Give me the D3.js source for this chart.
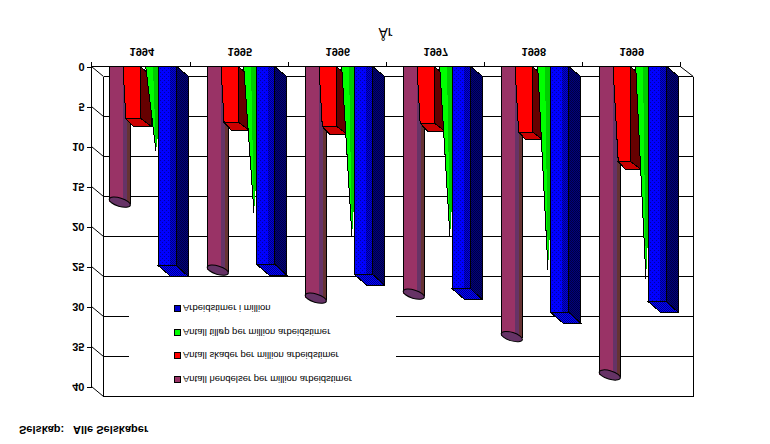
<!DOCTYPE html>
<html>
<head>
<meta charset="utf-8">
<title>År</title>
<script src="https://cdn.jsdelivr.net/npm/d3@7/dist/d3.min.js"></script>
<style>
    body { margin: 0; background: #fff; }
    svg { display: block; }
    text { font-family: "Liberation Sans", Arial, sans-serif; fill: #000; }
</style>
</head>
<body>
<script>
// values
const years = ['1994', '1995', '1996', '1997', '1998', '1999']
const hendelser = [16.4, 24.9, 28.4, 27.9, 33.2, 38.0]
const skader = [6.5, 7.0, 7.5, 7.1, 8.2, 11.9]
const tillop = [10.6, 18.3, 21.3, 21.3, 25.4, 26.6]
const timer = [24.9, 24.7, 26.0, 27.8, 30.7, 29.4]
const axisTicks = [0, 5, 10, 15, 20, 25, 30, 35, 40]
const legendLabels = [
    'Arbeidstimer i million',
    'Antall tilløp per million arbeidstimer',
    'Antall skader per million arbeidstimer',
    'Antall hendelser per million arbeidstimer'
]
const legendColours = ['#0000cc', '#00ff00', '#ff0000', '#993366']

const width = 770
const height = 444
const wall = {dx: 12, dy: 10}

const svg = d3.select('body').append('svg')
    .attr('width', width)
    .attr('height', height)

const x = d3.scaleBand().domain(years).range([92.3, 680.3])
const y = d3.scaleLinear().domain([0, 40]).range([66.5, 386.5])
const base = y(0)

// the whole picture is upside down, so every text is mirrored on its own baseline
function flippedText(parent, px, py, label, size, weight, anchor){
    return parent.append('text')
        .attr('transform', 'translate(' + px + ',' + py + ') scale(1,-1)')
        .attr('font-size', size)
        .attr('font-weight', weight)
        .attr('text-anchor', anchor)
        .text(label)
}

function poly(parent, points, fill, stroke = '#000'){
    return parent.append('polygon')
        .attr('points', points.map(p => p.join(',')).join(' '))
        .attr('fill', fill)
        .attr('stroke', stroke)
}

function dither(id, back, dot, size){
    const p = svg.append('defs').append('pattern')
        .attr('id', id)
        .attr('width', size)
        .attr('height', size)
        .attr('patternUnits', 'userSpaceOnUse')
    p.append('rect').attr('width', size).attr('height', size).attr('fill', back)
    p.append('rect').attr('width', 1).attr('height', 1).attr('fill', dot)
    p.append('rect').attr('x', size / 2).attr('y', size / 2).attr('width', 1).attr('height', 1).attr('fill', dot)
}
dither('blueFront', '#0000ff', '#0000a0', 4)
dither('blueFrontDark', '#0000e0', '#000080', 2)
dither('blueSide', '#000080', '#000040', 2)
dither('blueBottom', '#0000ff', '#000090', 2)

// walls and gridlines
const grid = svg.append('g').attr('shape-rendering', 'crispEdges')
const left = x.range()[0] - 0.8
const right = x.range()[1]

grid.selectAll('line.back')
    .data(axisTicks)
    .join('line')
    .attr('class', 'back')
    .attr('x1', left + wall.dx)
    .attr('x2', right + 13)
    .attr('y1', d => y(d) + wall.dy)
    .attr('y2', d => y(d) + wall.dy)
    .attr('stroke', '#000')

svg.append('g').selectAll('line')
    .data(axisTicks)
    .join('line')
    .attr('x1', left)
    .attr('x2', left + wall.dx)
    .attr('y1', d => y(d))
    .attr('y2', d => y(d) + wall.dy)
    .attr('stroke', '#000')

svg.append('line')
    .attr('x1', right).attr('x2', right + 13)
    .attr('y1', base).attr('y2', base + wall.dy)
    .attr('stroke', '#000')

grid.append('line')
    .attr('x1', left + wall.dx).attr('x2', left + wall.dx)
    .attr('y1', base + wall.dy).attr('y2', y(40) + wall.dy)
    .attr('stroke', '#000')
grid.append('line')
    .attr('x1', right + 13).attr('x2', right + 13)
    .attr('y1', base + wall.dy).attr('y2', y(40) + wall.dy)
    .attr('stroke', '#000')

// value axis
const yAxis = svg.append('g')
    .attr('transform', 'translate(' + left + ',0)')
    .call(d3.axisLeft(y).tickValues(axisTicks).tickSize(5).tickFormat(''))
yAxis.select('.domain').remove()
yAxis.attr('shape-rendering', 'crispEdges')
grid.append('line')
    .attr('x1', left).attr('x2', left)
    .attr('y1', base - 5).attr('y2', y(40))
    .attr('stroke', '#000')

axisTicks.forEach(t => flippedText(svg, 84.5, y(t) - 4, t, 11, 'bold', 'end'))

// category axis along the top
const xAxis = svg.append('g')
    .attr('transform', 'translate(0,' + base + ')')
    .attr('shape-rendering', 'crispEdges')
    .call(d3.axisTop(x).tickSize(0).tickFormat(''))
xAxis.select('.domain').attr('stroke', '#000').attr('d', 'M' + left + ',0H' + right)
years.forEach(year => {
    grid.append('line')
        .attr('x1', x(year) + x.bandwidth())
        .attr('x2', x(year) + x.bandwidth())
        .attr('y1', base - 5).attr('y2', base)
        .attr('stroke', '#000')
    flippedText(svg, x(year) + x.bandwidth() / 2 + 0.5, 48, year, 11, 'bold', 'middle')
})

flippedText(svg, 385.5, 28, 'År', 14, 'normal', 'middle')

// legend sits on the wall and hides the gridlines behind it
const legend = svg.append('g')
legend.append('rect')
    .attr('x', 129).attr('y', 300)
    .attr('width', 267).attr('height', 92)
    .attr('fill', '#fff')

const legendY = d3.scalePoint().domain(legendLabels).range([305.5, 376.5])
legendLabels.forEach((label, i) => {
    legend.append('rect')
        .attr('x', 174.5).attr('y', legendY(label))
        .attr('width', 6).attr('height', 6)
        .attr('fill', legendColours[i])
        .attr('stroke', '#000')
        .attr('shape-rendering', 'crispEdges')
    flippedText(legend, 183, legendY(label) - 0.5, label, 9.5, 'normal', 'start')
})

// bars, back to front as they overlap
const bars = svg.append('g').attr('shape-rendering', 'crispEdges')

years.forEach((year, i) => {
    const x0 = x(year)
    const g = bars.append('g')

    // hendelser, a cylinder
    const cx0 = x0 + 17
    const cw = 21
    const cy = y(hendelser[i])
    g.append('rect').attr('x', cx0).attr('y', base).attr('width', 14).attr('height', cy + 4 - base).attr('fill', '#993366')
    g.append('rect').attr('x', cx0 + 14).attr('y', base).attr('width', 4).attr('height', cy + 5 - base).attr('fill', '#663366')
    g.append('rect').attr('x', cx0 + 18).attr('y', base).attr('width', 3).attr('height', cy + 7 - base).attr('fill', '#663333')
    g.append('line').attr('x1', cx0).attr('x2', cx0).attr('y1', base).attr('y2', cy + 2).attr('stroke', '#000')
    g.append('line').attr('x1', cx0 + cw).attr('x2', cx0 + cw).attr('y1', base).attr('y2', cy + 6).attr('stroke', '#000')
    g.append('ellipse')
        .attr('transform', 'translate(' + (cx0 + cw / 2) + ',' + (cy + 4.5) + ') rotate(17)')
        .attr('rx', 11).attr('ry', 4.2)
        .attr('fill', '#663366')
        .attr('stroke', '#000')
        .attr('shape-rendering', 'auto')

    // skader, a box that narrows on its left side
    const rx1 = x0 + 48.4
    const rx0 = x0 + 30.7
    const ry = y(skader[i])
    const taper = (ry - base) * 0.055
    poly(g, [[rx1, base], [rx1, ry], [rx1 + 10.3, ry + 7.7], [rx1 + 10.3, base + wall.dy]], '#660000')
    poly(g, [[rx0 + taper, ry], [rx1, ry], [rx1 + 10.3, ry + 7.7], [rx0 + taper + 7.3, ry + 7.7]], '#cc0000')
    poly(g, [[rx0, base], [rx1, base], [rx1, ry], [rx0 + taper, ry]], '#ff0000')

    // tilløp, a cone that ends in a point
    const gy = y(tillop[i])
    const apex = [x0 + 63.7, gy]
    poly(g, [[x0 + 60.7, base], [x0 + 74, base], apex], '#00cc00', 'none')
    poly(g, [[x0 + 53.4, base], [x0 + 60.7, base], apex], '#00ff00', 'none')
    g.append('line').attr('x1', x0 + 53.4).attr('y1', base).attr('x2', apex[0]).attr('y2', apex[1]).attr('stroke', '#000')

    // arbeidstimer, a box
    const bx0 = x0 + 66
    const bx1 = x0 + 84.4
    const by = y(timer[i])
    poly(g, [[bx1, base], [bx1, by], [bx1 + 12, by + 11], [bx1 + 12, base + wall.dy]], 'url(#blueSide)')
    poly(g, [[bx0, by], [bx1, by], [bx1 + 12, by + 11], [bx0 + 12.7, by + 11]], 'url(#blueBottom)')
    poly(g, [[bx0, base], [bx1, base], [bx1, by], [bx0, by]], 'url(#blueFront)')
    g.append('rect')
        .attr('x', bx1 - 7).attr('y', base + 0.5)
        .attr('width', 6.5).attr('height', by - base - 1)
        .attr('fill', 'url(#blueFrontDark)')
})

// company line under the chart
flippedText(svg, 19, 426, 'Selskap:', 11, 'bold', 'start')
flippedText(svg, 73, 426, 'Alle Selskaper', 11, 'bold', 'start')
</script>
</body>
</html>
